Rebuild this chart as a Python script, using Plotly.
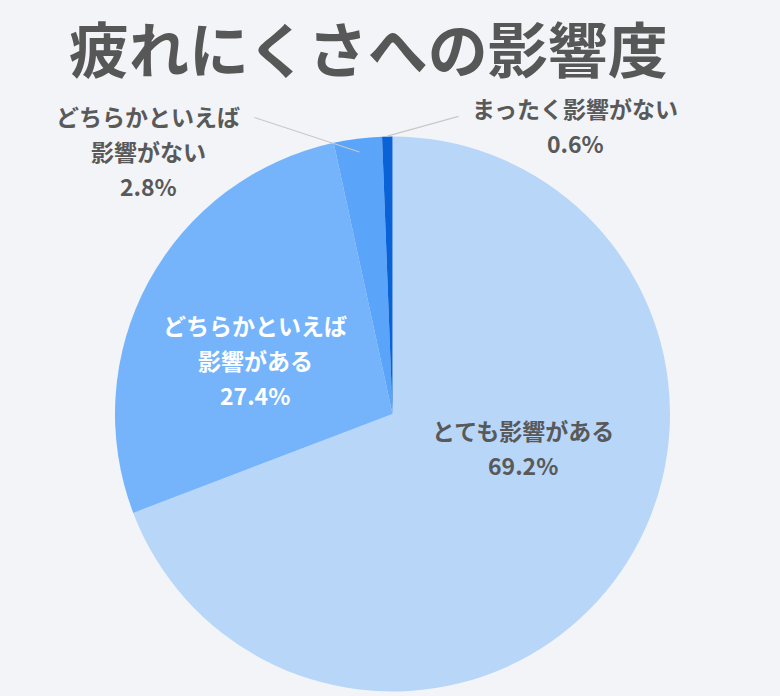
import math
import plotly.graph_objects as go

labels = ["とても影響がある", "どちらかといえば影響がある", "どちらかといえば影響がない", "まったく影響がない"]
values = [69.2, 27.4, 2.8, 0.6]
colors = ["#b8d6f8", "#75b4fb", "#5aa4f9", "#0a62d8"]
label_lines = [
    ["とても影響がある"],
    ["どちらかといえば", "影響がある"],
    ["どちらかといえば", "影響がない"],
    ["まったく影響がない"],
]

W, H = 780, 696
# pie box in pixels
px0, px1, py0, py1 = 115, 670, 136, 692
cx = (px0 + px1) / 2 / W
cy = 1 - (py0 + py1) / 2 / H
rx = (px1 - px0) / 2 / W
ry = (py1 - py0) / 2 / H

fig = go.Figure()
fig.add_trace(go.Pie(
    labels=labels, values=values, sort=False, direction="clockwise", rotation=0,
    marker=dict(colors=colors, line=dict(width=0)),
    textinfo="none", hoverinfo="label+percent", showlegend=False,
    domain=dict(x=[px0 / W, px1 / W], y=[1 - py1 / H, 1 - py0 / H]),
))

font = "Noto Sans CJK JP"
grey = "#595959"

# first line centre of each label (pixels), lines 35px apart
label_pos = [(523, 430), (255, 325), (148, 116), (575, 108)]
label_col = [grey, "white", grey, grey]
for i in range(4):
    x, y = label_pos[i]
    lines = label_lines[i] + [f"{values[i]}%"]
    for k, t in enumerate(lines):
        fig.add_annotation(
            x=x / W, y=1 - (y + 35 * k) / H, xref="paper", yref="paper", showarrow=False,
            text=t, font=dict(family=font, size=23, color=label_col[i], weight=600),
            xanchor="center", yanchor="middle",
        )

# leader lines for the two small slices, from slice mid-angle to label
total = sum(values)
cum = 0
ends = {2: (253, 117), 3: (460, 116)}
for i, v in enumerate(values):
    mid = (cum + v / 2) / total * 2 * math.pi
    cum += v
    if i in ends:
        f = 0.95 if i == 2 else 1.0
        hx = cx + f * rx * math.sin(mid)
        hy = cy + f * ry * math.cos(mid)
        tx, ty = ends[i]
        fig.add_annotation(
            x=hx, y=hy, xref="paper", yref="paper", text="",
            showarrow=True, arrowhead=0, arrowwidth=1.2, arrowcolor="#c8c8c8",
            axref="pixel", ayref="pixel",
            ax=tx - hx * W, ay=ty - (1 - hy) * H,
        )

fig.add_annotation(
    x=368 / W, y=1 - 47 / H, xref="paper", yref="paper", showarrow=False,
    text="疲れにくさへの影響度",
    font=dict(family=font, size=60, color="#575757", weight=700),
    xanchor="center", yanchor="middle",
)

fig.update_layout(
    width=W, height=H,
    margin=dict(l=0, r=0, t=0, b=0),
    paper_bgcolor="#f2f4f8", plot_bgcolor="#f2f4f8",
)

fig.write_html(
    "out.html",
    config={"displayModeBar": False},
    post_script="document.body.style.margin='0';document.body.style.background='#f2f4f8';",
)
